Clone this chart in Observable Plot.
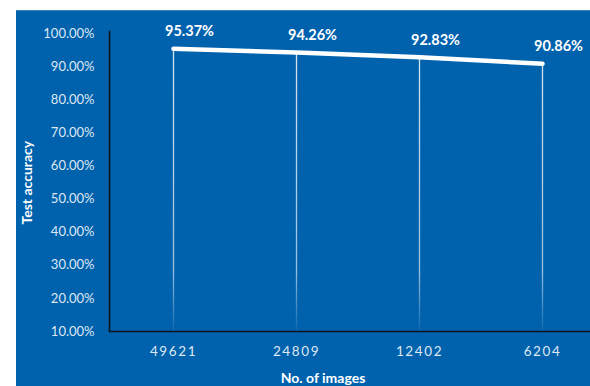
<!DOCTYPE html>
<html>
<head>
<meta charset="utf-8">
<script src="https://cdn.jsdelivr.net/npm/d3@7"></script>
<script src="https://cdn.jsdelivr.net/npm/@observablehq/plot@0.6"></script>
<style>
  html, body { margin: 0; padding: 0; background: #ffffff; }
  #chart { position: absolute; left: 16px; top: 10px; width: 574px; height: 376px; background: #0062ad; border-top: 1px solid #3a82c0; box-sizing: border-box; }
  #chart svg { display: block; }
  .xt text { letter-spacing: 1.6px; }
</style>
</head>
<body>
<div id="chart"></div>
<script>
const categories = ["49621", "24809", "12402", "6204"];
const accuracy = [0.9537, 0.9426, 0.9283, 0.9086];
const yTicks = [0.1, 0.2, 0.3, 0.4, 0.5, 0.6, 0.7, 0.8, 0.9, 1.0];
const xTitle = "No. of images";
const yTitle = "Test accuracy";

const data = categories.map((c, i) => ({images: c, acc: accuracy[i]}));
const fmt = d => (d * 100).toFixed(2) + "%";

const gradientDefs = () => {
  const defs = d3.create("svg:defs");
  const g = defs.append("linearGradient")
    .attr("id", "dropFade").attr("gradientUnits", "userSpaceOnUse")
    .attr("x1", 0).attr("x2", 0).attr("y1", 22).attr("y2", 320);
  g.append("stop").attr("offset", "0").attr("stop-color", "#ffffff").attr("stop-opacity", 0.85);
  g.append("stop").attr("offset", "0.8").attr("stop-color", "#ffffff").attr("stop-opacity", 0.6);
  g.append("stop").attr("offset", "1").attr("stop-color", "#ffffff").attr("stop-opacity", 0.05);
  return defs.node();
};

const chart = Plot.plot({
  width: 574,
  height: 375,
  marginLeft: 93,
  marginRight: 0,
  marginTop: 20,
  marginBottom: 55,
  style: {background: "transparent", fontFamily: "Lato, 'Open Sans', sans-serif", color: "#ffffff", overflow: "visible"},
  x: {type: "point", domain: categories, range: [156, 527], padding: 0},
  y: {domain: [0.1, 1.0], range: [320, 22]},
  marks: [
    gradientDefs,
    Plot.ruleX(data, {x: "images", y1: 0.1, y2: "acc", stroke: "url(#dropFade)", strokeWidth: 1.3}),
    Plot.axisY({ticks: yTicks, tickFormat: fmt, tickSize: 0, tickPadding: 15, fontSize: 13, fill: "#dfe8f3", label: null}),
    Plot.axisX({tickSize: 0, tickPadding: 15, fontSize: 13.5, fill: "#dfe8f3", label: null, className: "xt"}),
    Plot.ruleY([0.1], {stroke: "#0b1420", strokeWidth: 1.6}),
    Plot.frame({anchor: "left", stroke: "#0b1420", strokeWidth: 1.6}),
    Plot.line(data, {x: "images", y: "acc", stroke: "#ffffff", strokeWidth: 4.5, strokeLinecap: "round"}),
    Plot.text(data, {x: "images", y: "acc", text: d => fmt(d.acc), dx: 16, dy: -17, fill: "#ffffff", fontWeight: "bold", fontSize: 14.5}),
    Plot.text([xTitle], {frameAnchor: "bottom", dx: -27, dy: 51, fill: "#ffffff", fontWeight: "bold", fontSize: 14}),
    Plot.text([yTitle], {frameAnchor: "left", dx: -82, dy: 43, rotate: -90, fill: "#ffffff", fontWeight: "bold", fontSize: 14})
  ]
});
document.getElementById("chart").appendChild(chart);
</script>
</body>
</html>
